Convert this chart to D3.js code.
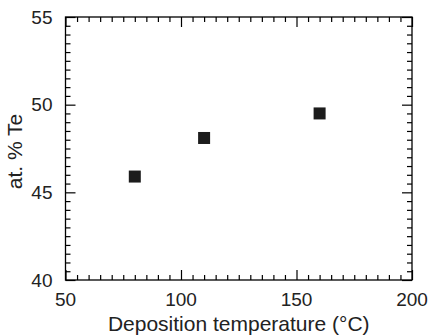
<!DOCTYPE html>
<html>
<head>
<meta charset="utf-8">
<script src="https://cdn.jsdelivr.net/npm/d3@7"></script>
<style>
  html, body { margin: 0; padding: 0; background: #fff; }
  svg { display: block; font-family: "Liberation Sans", Arial, sans-serif; }
</style>
</head>
<body>
<svg id="chart" width="429" height="336"></svg>
<script>
// Deposition temperature (°C) vs tellurium content (at. %)
const temperatures = [80, 110, 160];
const teContent = [45.9, 48.1, 49.5];
const xTickValues = [50, 100, 150, 200];
const yTickValues = [40, 45, 50, 55];

const W = 429, H = 336;
const margin = { left: 65.5, right: 17, top: 17, bottom: 56 };

const svg = d3.select("#chart");

const x = d3.scaleLinear().domain([50, 200]).range([margin.left, W - margin.right]);
const y = d3.scaleLinear().domain([40, 55]).range([H - margin.bottom, margin.top]);

const x0 = x.range()[0], x1 = x.range()[1];
const y0 = y.range()[0], y1 = y.range()[1];

// minor ticks every 5 °C and every 0.5 at.%
const xMinor = d3.range(50, 200.01, 5).filter(v => v % 50 !== 0);
const yMinor = d3.range(40, 55.01, 0.5).filter(v => v % 5 !== 0);

const majorLen = 10, minorLen = 5;

function inwardAxis(axisFn, scale, g, major, minor) {
  g.call(axisFn(scale).tickValues(major).tickSize(-majorLen).tickFormat(""))
   .call(s => s.select(".domain").remove());
  g.append("g").call(axisFn(scale).tickValues(minor).tickSize(-minorLen).tickFormat(""))
   .call(s => s.select(".domain").remove());
  g.selectAll("line").attr("stroke", "#000").attr("stroke-width", 1.2);
}

// bottom + top
inwardAxis(d3.axisBottom, x, svg.append("g").attr("transform", `translate(0,${y0})`), xTickValues, xMinor);
inwardAxis(d3.axisTop, x, svg.append("g").attr("transform", `translate(0,${y1})`), xTickValues, xMinor);
// left + right
inwardAxis(d3.axisLeft, y, svg.append("g").attr("transform", `translate(${x0},0)`), yTickValues, yMinor);
inwardAxis(d3.axisRight, y, svg.append("g").attr("transform", `translate(${x1},0)`), yTickValues, yMinor);

// frame
svg.append("rect")
  .attr("x", x0).attr("y", y1)
  .attr("width", x1 - x0).attr("height", y0 - y1)
  .attr("fill", "none").attr("stroke", "#000").attr("stroke-width", 1.3);

// tick labels
svg.append("g").selectAll("text").data(xTickValues).join("text")
  .attr("x", d => x(d)).attr("y", y0 + 25.5)
  .attr("text-anchor", "middle")
  .attr("font-size", 19).attr("fill", "#222")
  .text(d => d);

svg.append("g").selectAll("text").data(yTickValues).join("text")
  .attr("x", x0 - 13).attr("y", d => y(d))
  .attr("dy", "0.35em")
  .attr("text-anchor", "end")
  .attr("font-size", 19).attr("fill", "#222")
  .text(d => d);

// axis titles
svg.append("text")
  .attr("x", (x0 + x1) / 2).attr("y", 331)
  .attr("text-anchor", "middle")
  .attr("font-size", 21).attr("fill", "#222")
  .text("Deposition temperature (°C)");

svg.append("text")
  .attr("transform", `translate(22,${(y0 + y1) / 2 + 3}) rotate(-90)`)
  .attr("text-anchor", "middle")
  .attr("font-size", 21).attr("fill", "#222")
  .text("at. % Te");

// data markers
const size = 12;
svg.append("g").selectAll("rect").data(temperatures).join("rect")
  .attr("x", (d) => x(d) - size / 2)
  .attr("y", (d, i) => y(teContent[i]) - size / 2)
  .attr("width", size).attr("height", size)
  .attr("fill", "#1c1c1c");
</script>
</body>
</html>
